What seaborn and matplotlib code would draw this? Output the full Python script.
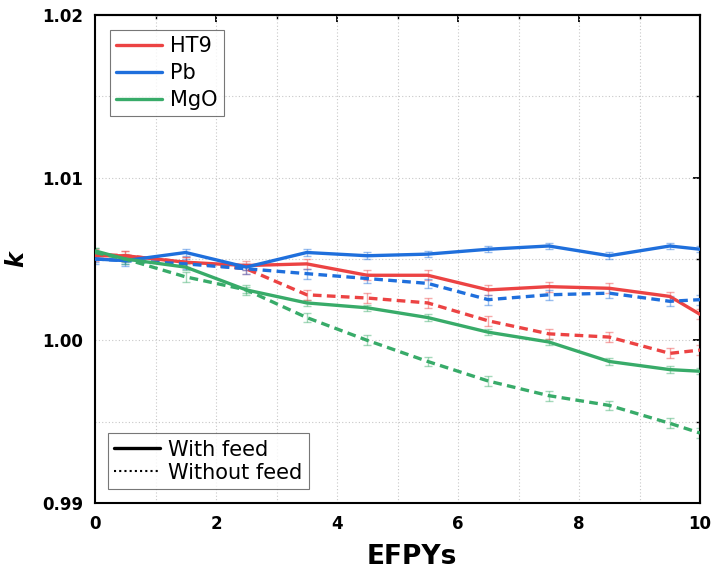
import numpy as np
import pandas as pd
import matplotlib
matplotlib.use("Agg")
import matplotlib.pyplot as plt
import seaborn as sns
from matplotlib.lines import Line2D
from matplotlib.ticker import MultipleLocator

# ---- data ----
efpy = [0, 0.5, 1.5, 2.5, 3.5, 4.5, 5.5, 6.5, 7.5, 8.5, 9.5, 10]

ht9_feed    = [1.0052, 1.0052, 1.0048, 1.0046, 1.0047, 1.0040, 1.0040, 1.0031, 1.0033, 1.0032, 1.0027, 1.0016]
pb_feed     = [1.0050, 1.0049, 1.0054, 1.0045, 1.0054, 1.0052, 1.0053, 1.0056, 1.0058, 1.0052, 1.0058, 1.0056]
mgo_feed    = [1.0055, 1.0050, 1.0045, 1.0031, 1.0023, 1.0020, 1.0014, 1.0005, 0.9999, 0.9987, 0.9982, 0.9981]
ht9_nofeed  = [1.0053, 1.0052, 1.0048, 1.0044, 1.0028, 1.0026, 1.0023, 1.0012, 1.0004, 1.0002, 0.9992, 0.9994]
pb_nofeed   = [1.0050, 1.0049, 1.0047, 1.0044, 1.0041, 1.0038, 1.0035, 1.0025, 1.0028, 1.0029, 1.0024, 1.0025]
mgo_nofeed  = [1.0054, 1.0050, 1.0039, 1.0031, 1.0014, 1.0000, 0.9987, 0.9975, 0.9966, 0.9960, 0.9949, 0.9943]

err_ht9_feed   = [0.0003, 0.0003, 0.0003, 0.0003, 0.0003, 0.0003, 0.0003, 0.0003, 0.0003, 0.0003, 0.0003, 0.0003]
err_pb_feed    = [0.0002, 0.0002, 0.0002, 0.0002, 0.0002, 0.0002, 0.0002, 0.0002, 0.0002, 0.0002, 0.0002, 0.0002]
err_mgo_feed   = [0.0002, 0.0002, 0.0002, 0.0002, 0.0002, 0.0002, 0.0002, 0.0002, 0.0002, 0.0002, 0.0002, 0.0002]
err_ht9_nofeed = [0.0003, 0.0003, 0.0003, 0.0003, 0.0003, 0.0003, 0.0003, 0.0003, 0.0003, 0.0003, 0.0003, 0.0003]
err_pb_nofeed  = [0.0003, 0.0003, 0.0003, 0.0003, 0.0003, 0.0003, 0.0003, 0.0003, 0.0003, 0.0003, 0.0003, 0.0003]
err_mgo_nofeed = [0.0003, 0.0003, 0.0003, 0.0003, 0.0003, 0.0003, 0.0003, 0.0003, 0.0003, 0.0003, 0.0003, 0.0003]

materials = ["HT9", "Pb", "MgO"]
feeds = ["With feed", "Without feed"]
colors = {"HT9": "#EC4343", "Pb": "#1F6FDC", "MgO": "#38AB69"}

series = {
    ("HT9", "With feed"): (ht9_feed, err_ht9_feed),
    ("Pb", "With feed"): (pb_feed, err_pb_feed),
    ("MgO", "With feed"): (mgo_feed, err_mgo_feed),
    ("HT9", "Without feed"): (ht9_nofeed, err_ht9_nofeed),
    ("Pb", "Without feed"): (pb_nofeed, err_pb_nofeed),
    ("MgO", "Without feed"): (mgo_nofeed, err_mgo_nofeed),
}

rows = []
for (m, f), (vals, errs) in series.items():
    for x, v, e in zip(efpy, vals, errs):
        rows.append({"EFPY": x, "k": v, "err": e, "material": m, "feed": f})
df = pd.DataFrame(rows)

# ---- plot ----
sns.set_style("white")
plt.rcParams["font.family"] = ["DejaVu Sans"]
plt.rcParams["text.color"] = "black"
plt.rcParams["axes.labelcolor"] = "black"
plt.rcParams["xtick.color"] = "black"
plt.rcParams["ytick.color"] = "black"

fig = plt.figure(figsize=(7.12, 5.71), dpi=100)
ax = fig.add_axes([95/712, 1 - 503/571, (700-95)/712, (503-15)/571])

lw = 2.4
sns.lineplot(data=df, x="EFPY", y="k", hue="material", style="feed",
             hue_order=materials, style_order=feeds, palette=colors,
             dashes={"With feed": "", "Without feed": (2.6, 1.6)},
             linewidth=lw, legend=False, ax=ax, zorder=3, errorbar=None)

for (m, f), (vals, errs) in series.items():
    ax.errorbar(efpy, vals, yerr=errs, fmt="none", ecolor=colors[m], alpha=0.45,
                elinewidth=1.0, capsize=3, capthick=1.0, zorder=2)

ax.set_xlim(0, 10)
ax.set_ylim(0.99, 1.02)
ax.xaxis.set_major_locator(MultipleLocator(2))
ax.xaxis.set_minor_locator(MultipleLocator(1))
ax.yaxis.set_major_locator(MultipleLocator(0.01))
ax.yaxis.set_minor_locator(MultipleLocator(0.005))
ax.set_yticks([0.99, 1.00, 1.01, 1.02])
ax.set_yticklabels(["0.99", "1.00", "1.01", "1.02"])

ax.grid(True, which="both", linestyle=(0, (1, 2)), color="#c8c8c8", linewidth=0.8)
for s in ax.spines.values():
    s.set_linewidth(1.5)
    s.set_color("black")

ax.tick_params(axis="both", which="major", direction="out", length=5, width=1.3,
               labelsize=12, top=False, right=False, colors="black")
ax.tick_params(axis="both", which="minor", direction="out", length=3, width=1.0)
for lab in ax.get_xticklabels() + ax.get_yticklabels():
    lab.set_fontweight("bold")

# mirrored inward ticks on top/right
axt = ax.secondary_xaxis("top")
axt.xaxis.set_major_locator(MultipleLocator(2))
axt.xaxis.set_minor_locator(MultipleLocator(1))
axt.tick_params(which="major", direction="in", length=5, width=1.3, labeltop=False)
axt.tick_params(which="minor", direction="in", length=3, width=1.0)
axr = ax.secondary_yaxis("right")
axr.yaxis.set_major_locator(MultipleLocator(0.01))
axr.yaxis.set_minor_locator(MultipleLocator(0.005))
axr.tick_params(which="major", direction="in", length=5, width=1.3, labelright=False)
axr.tick_params(which="minor", direction="in", length=3, width=1.0)
axt.spines["top"].set_linewidth(1.5)
axr.spines["right"].set_linewidth(1.5)

ax.set_xlabel("EFPYs", fontsize=19, fontweight="bold", labelpad=10, color="black")
ax.xaxis.set_label_coords(0.524, -0.085)
ax.set_ylabel("k", fontsize=17, fontweight="bold", fontstyle="italic", labelpad=10, color="black")

h1 = [Line2D([0], [0], color=colors[m], lw=lw) for m in materials]
leg1 = ax.legend(h1, materials, loc="upper left", bbox_to_anchor=(0.0248, 0.969),
                 fontsize=15, frameon=True, fancybox=False, handlelength=2.2,
                 handletextpad=0.4, borderpad=0.3, labelspacing=0.33, borderaxespad=0)
leg1.get_frame().set_edgecolor("#555555")
leg1.get_frame().set_linewidth(0.8)
for t in leg1.get_texts():
    t.set_color("black")
ax.add_artist(leg1)

h2 = [Line2D([0], [0], color="black", lw=lw),
      Line2D([0], [0], color="black", lw=1.5, linestyle=(0, (1, 1.5)))]
leg2 = ax.legend(h2, feeds, loc="lower left", bbox_to_anchor=(0.0215, 0.0287),
                 fontsize=15, frameon=True, fancybox=False, handlelength=2.2,
                 handletextpad=0.4, borderpad=0.3, labelspacing=0.15, borderaxespad=0)
leg2.get_frame().set_edgecolor("#555555")
leg2.get_frame().set_linewidth(0.8)
for t in leg2.get_texts():
    t.set_color("black")

fig.savefig("out.png", dpi=100)
